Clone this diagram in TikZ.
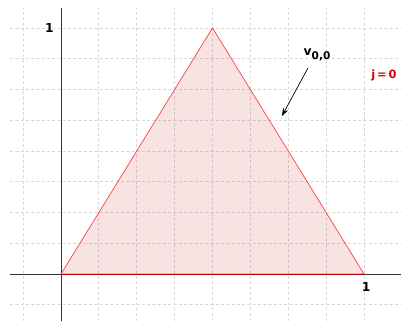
\documentclass[tikz,border=0pt]{standalone}
\usepackage{fontspec}
\setmainfont{DejaVu Sans}
\usetikzlibrary{arrows.meta}
\definecolor{trifill}{RGB}{200,40,40}

\begin{document}
\begin{tikzpicture}[x=6.06cm, y=4.92cm, every node/.style={font=\fontsize{7}{8}\selectfont\bfseries}, >={Stealth[length=1.6mm, width=1.1mm]}, gridline/.style={black!15, dash pattern=on 1.8pt off 1.2pt, line width=0.45pt}, axis/.style={black!80, line width=0.5pt}, tri/.style={draw=red!75, fill=trifill, fill opacity=0.13, draw opacity=1, line width=0.4pt}, lab/.style={inner sep=1pt}]
	\useasboundingbox (-0.2013,-0.191) rectangle (1.1221,1.1138);
	\foreach \i in {-1,...,9} {\draw[gridline] ({0.125*\i},-0.191) -- ({0.125*\i},1.081);}
	\foreach \j in {-1,...,8} {\draw[gridline] (-0.168,{0.125*\j}) -- (1.1221,{0.125*\j});}
	\draw[axis] (-0.168,0) -- (1.1221,0);
	\draw[axis] (0,-0.191) -- (0,1.081);
	\coordinate (A) at (0,0); \coordinate (B) at (1,0); \coordinate (C) at (0.5,1);
	\draw[tri] (A) -- (B) -- (C) -- cycle;
	\draw[red!70!black, line width=0.5pt] (A) -- (B);
	\node[lab] (ylab) at (-0.038,1.0) {1};
	\node[lab] (xlab) at (1.007,-0.053) {1};
	\node[lab] (vlab) at (0.845,0.89) {v\raisebox{-0.55ex}{\fontsize{6}{7}\selectfont 0,0}};
	\node[lab, text=red!85!black, font=\fontsize{6.5}{8}\selectfont\bfseries] (jlab) at (1.066,0.809) {j\,=\,0};
	\coordinate (vtail) at (0.815,0.837);
	\coordinate (vtip) at (0.729,0.642);
	\draw[->, black, line width=0.4pt] (vtail) -- (vtip);
\end{tikzpicture}
\end{document}
